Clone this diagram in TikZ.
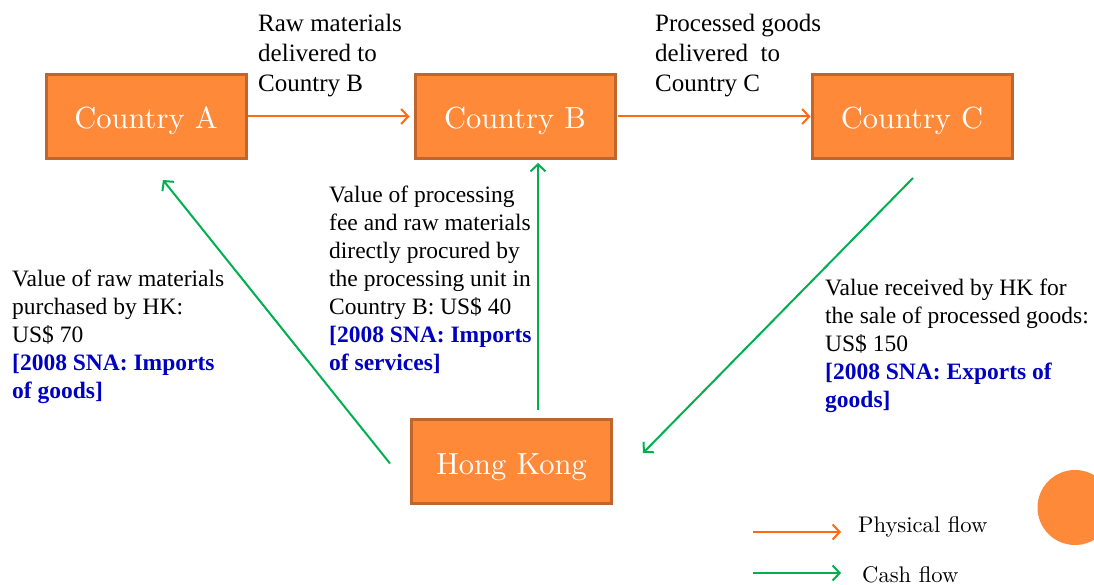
\documentclass[tikz,border=0pt]{standalone}
\usepackage{fontspec}
\usepackage{tikz}
\usetikzlibrary{arrows.meta,calc}
\newfontfamily\notefont{Liberation Serif}
\newfontfamily\boxfont[Extension=.otf]{lmroman10-regular}
\definecolor{boxorange}{RGB}{253,137,57}
\definecolor{boxedge}{RGB}{192,101,44}
\definecolor{physorange}{RGB}{255,106,16}
\definecolor{cashgreen}{RGB}{0,176,80}
\definecolor{snablue}{RGB}{0,0,192}

\begin{document}
\begin{tikzpicture}[x=1pt, y=-1pt,
        country/.style={draw=boxedge, line width=3pt, fill=boxorange, text=white,
                minimum width=200pt, minimum height=84pt, inner sep=0pt,
                text height=30pt, text depth=5pt,
                font=\boxfont\fontsize{30.5}{36}\selectfont},
        note/.style={anchor=north west, align=left, inner sep=0pt,
                font=\notefont\fontsize{23.5}{28}\selectfont},
        topnote/.style={note, font=\notefont\fontsize{25}{30}\selectfont},
        legendlab/.style={anchor=base west, inner sep=0pt, font=\boxfont\fontsize{22.6}{26}\selectfont},
        physical/.style={draw=physorange, line width=2pt, -{Straight Barb[length=7pt,width=15pt]}},
        cash/.style={draw=cashgreen, line width=2pt, -{Straight Barb[length=7pt,width=15pt]}}]
    \useasboundingbox (0,0) rectangle (1094,585);
    \pgfmathsetmacro{\topRow}{116.5}
    \pgfmathsetmacro{\bottomRow}{461.5}

    % the countries and Hong Kong
    \node[country] (A) at (146, \topRow) {Country A};
    \node[country] (B) at (515, \topRow) {Country B};
    \node[country] (C) at (912, \topRow) {Country C};
    \node[country] (HK) at (511.5, \bottomRow) {Hong Kong};

    % physical flow between the countries
    \draw[physical] (A.east) -- ([xshift=-4pt]B.west);
    \draw[physical] ([xshift=1pt]B.east) -- (C.west);
    \node[topnote] (rawlab) at (258, 14) {Raw materials\\delivered to\\Country B};
    \node[topnote] (proclab) at (655, 14) {Processed goods\\delivered~ to\\Country C};

    % cash flow from and to Hong Kong
    \draw[cash] ($(HK.west)+(-20,2)$) -- ($(A.south)+(17,20)$);
    \draw[cash] ($(HK.north)+(26.5,-8)$) -- ($(B.south)+(23,3)$);
    \draw[cash] ($(C.south)+(1,18)$) -- ($(HK.east)+(30,-8.5)$);

    \node[note] (buylab) at (12, 270) {Value of raw materials\\purchased by HK:\\US\$ 70\\
            {\bfseries\color{snablue}[2008 SNA: Imports}\\{\bfseries\color{snablue}of goods]}};
    \node[note] (feelab) at (329, 186) {Value of processing\\fee and raw materials\\directly procured by\\
            the processing unit in\\Country B: US\$ 40\\
            {\bfseries\color{snablue}[2008 SNA: Imports}\\{\bfseries\color{snablue}of services]}};
    \node[note] (salelab) at (825, 279) {Value received by HK for\\the sale of processed goods:\\US\$ 150\\
            {\bfseries\color{snablue}[2008 SNA: Exports of}\\{\bfseries\color{snablue}goods]}};

    % legend
    \coordinate (physstart) at (753, 532);
    \coordinate (physend) at (841, 532);
    \coordinate (cashstart) at (753, 573);
    \coordinate (cashend) at (841, 573);
    \draw[physical] (physstart) -- (physend);
    \draw[cash] (cashstart) -- (cashend);
    \node[legendlab] (physlab) at (858, 532) {Physical flow};
    \node[legendlab] (cashlab) at (862, 582) {Cash flow};

    % corner decoration
    \fill[boxorange] (1075, 507.5) circle (37.5pt);
\end{tikzpicture}
\end{document}
